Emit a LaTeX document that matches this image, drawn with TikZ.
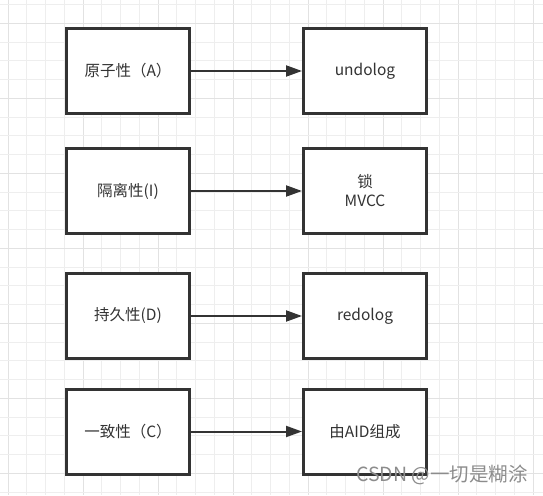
\documentclass[tikz,border=0pt]{standalone}
\usepackage{fontspec}
\setmainfont{Noto Sans CJK SC}
\usetikzlibrary{arrows.meta}
\definecolor{gridminor}{HTML}{EEEEEE}
\definecolor{gridmajor}{HTML}{E2E2E2}
\definecolor{ink}{HTML}{333333}
\tikzset{
  box/.style={draw=ink, line width=3pt, fill=white, minimum width=123pt, minimum height=85pt, inner sep=0pt, align=center, text=ink, font=\fontsize{15.5}{19}\selectfont},
  conn/.style={draw=ink, line width=2pt, -{Triangle[length=16pt,width=11pt]}},
}
\begin{document}
\begin{tikzpicture}[x=1pt,y=-1pt]
\useasboundingbox (0,0) rectangle (543,495);
\fill[white] (0,0) rectangle (543,495);
\foreach \k in {0,...,28}{
  \pgfmathsetmacro{\xx}{8+18.75*\k}
  \pgfmathtruncatemacro{\m}{mod(\k,4)}
  \ifnum\m=0
    \draw[gridmajor, line width=1pt] (\xx,0) -- (\xx,495);
  \else
    \draw[gridminor, line width=1pt] (\xx,0) -- (\xx,495);
  \fi
}
\foreach \k in {0,...,26}{
  \pgfmathsetmacro{\yy}{4.7+18.75*\k}
  \pgfmathtruncatemacro{\m}{mod(\k-1,4)}
  \ifnum\m=0
    \draw[gridmajor, line width=1pt] (0,\yy) -- (543,\yy);
  \else
    \draw[gridminor, line width=1pt] (0,\yy) -- (543,\yy);
  \fi
}
\node[box] (a) at (128,71) {原子性（A）};
\node[box] (i) at (128,191) {隔离性(I)};
\node[box] (d) at (128,316) {持久性(D)};
\node[box] (c) at (128,431.5) {一致性（C）};
\node[box] (ra) at (365,71) {undolog};
\node[box] (ri) at (365,191) {锁\\MVCC};
\node[box] (rd) at (365,316) {redolog};
\node[box] (rc) at (365,431.5) {由AID组成};
\draw[conn] (a) -- (ra);
\draw[conn] (i) -- (ri);
\draw[conn] (d) -- (rd);
\draw[conn] (c) -- (rc);
\node[anchor=east, text=black!45, font=\fontsize{19.5}{22}\selectfont, inner sep=0pt] (wm) at (528,475) {CSDN @一切是糊涂};
\end{tikzpicture}
\end{document}
